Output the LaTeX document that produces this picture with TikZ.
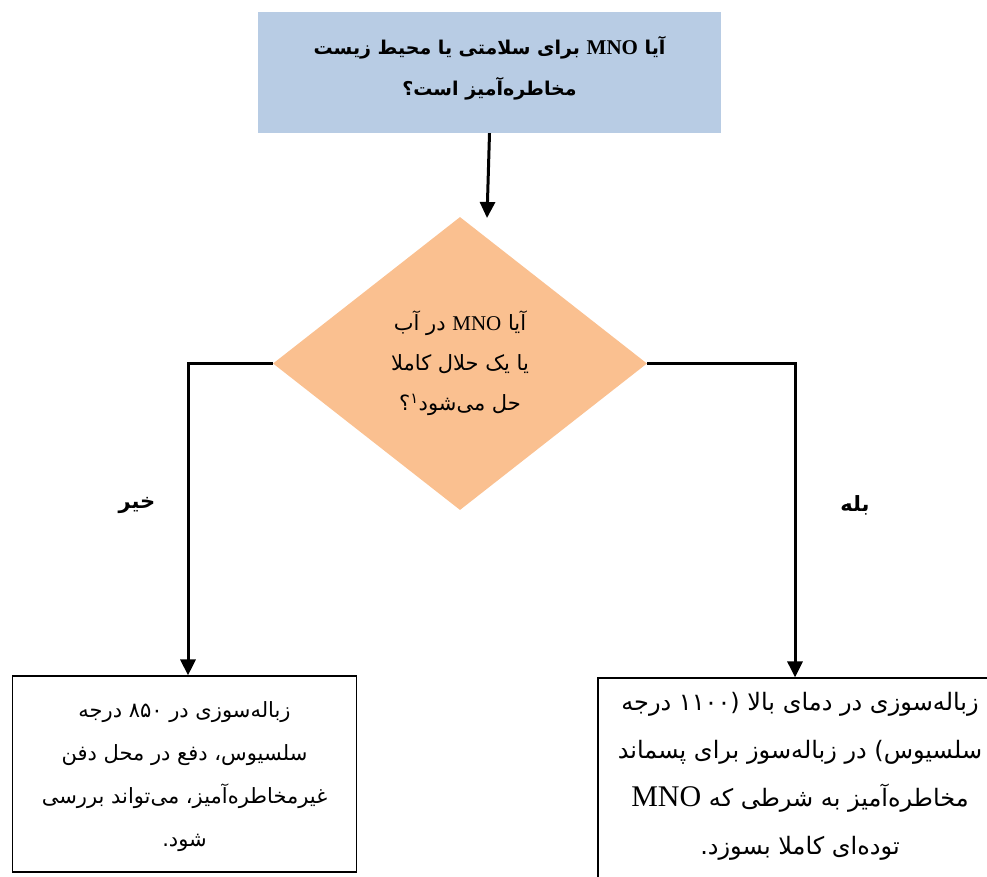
\documentclass[tikz,border=0pt]{standalone}
\usepackage{fontspec}
\usetikzlibrary{shapes.geometric,arrows.meta}
\TeXXeTstate=1
\newfontfamily\fa[Script=Arabic]{DejaVu Sans}
\newfontfamily\lat{Liberation Serif}
\definecolor{headblue}{HTML}{B8CCE4}
\definecolor{choice}{HTML}{FAC090}
\begin{document}
\begin{tikzpicture}[x=1pt,y=-1pt,
  topbox/.style={rectangle,fill=headblue,minimum width=463pt,minimum height=121pt,inner sep=0pt},
  toptext/.style={align=center,font=\fa\bfseries\fontsize{19}{41}\selectfont},
  decision/.style={diamond,fill=choice,inner sep=0pt,minimum width=374pt,minimum height=293pt,
    align=center,font=\fa\fontsize{21}{40}\selectfont},
  outbox/.style={rectangle,draw=black,line width=1.2pt,inner sep=0pt},
  bodytext/.style={align=center,font=\fa\fontsize{21}{43}\selectfont},
  branchlabel/.style={font=\fa\bfseries\fontsize{21}{24}\selectfont},
  arr/.style={line width=3pt,-{Triangle[length=16pt,width=15pt]}}]
\useasboundingbox (0,0) rectangle (987,876);
\clip (0,0) rectangle (987,876);

% question boxes
\node[topbox] (q1) at (489.5,72.5) {};
\node[toptext] (q1txt) at (489.5,68)
  {\beginR آیا {\lat\bfseries\fontsize{21}{41}\selectfont MNO} برای سلامتی یا محیط زیست\endR\\
   \beginR مخاطره‌آمیز است؟\endR};
\node[decision] (q2) at (460,363.5)
  {\beginR آیا {\lat\fontsize{21}{40}\selectfont MNO} در آب\endR\\
   \beginR یا یک حلال کاملا\endR\\
   \beginR حل می‌شود\textsuperscript{۱}؟\endR};

% outcome boxes
\node[outbox,minimum width=344pt,minimum height=196pt] (no) at (184.5,774) {};
\node[bodytext] (notxt) at (184.5,777)
  {\beginR زباله‌سوزی در ۸۵۰ درجه\endR\\
   \beginR سلسیوس، دفع در محل دفن\endR\\
   \beginR غیرمخاطره‌آمیز، می‌تواند بررسی\endR\\
   \beginR شود.\endR};
\node[outbox,minimum width=397pt,minimum height=200pt] (yes) at (796.5,778) {};
\node[bodytext,font=\fa\fontsize{24}{48}\selectfont] (yestxt) at (800,776)
  {\beginR زباله‌سوزی در دمای بالا ‏(۱۱۰۰ درجه\endR\\
   \beginR سلسیوس) در زباله‌سوز برای پسماند\endR\\
   \beginR مخاطره‌آمیز به شرطی که {\lat\fontsize{30}{48}\selectfont MNO}\endR\\
   \beginR توده‌ای کاملا بسوزد.\endR};

% branch labels
\node[branchlabel] (nolbl) at (137,505) {\beginR خیر\endR};
\node[branchlabel] (yeslbl) at (855,505) {\beginR بله\endR};

% connectors
\coordinate (qtip) at (487,218);
\draw[arr] (q1.south) -- (qtip);
\draw[arr] (q2.west) -| ([xshift=3.5pt]no.north);
\draw[arr] (q2.east) -| ([xshift=-1.5pt]yes.north);
\end{tikzpicture}
\end{document}
